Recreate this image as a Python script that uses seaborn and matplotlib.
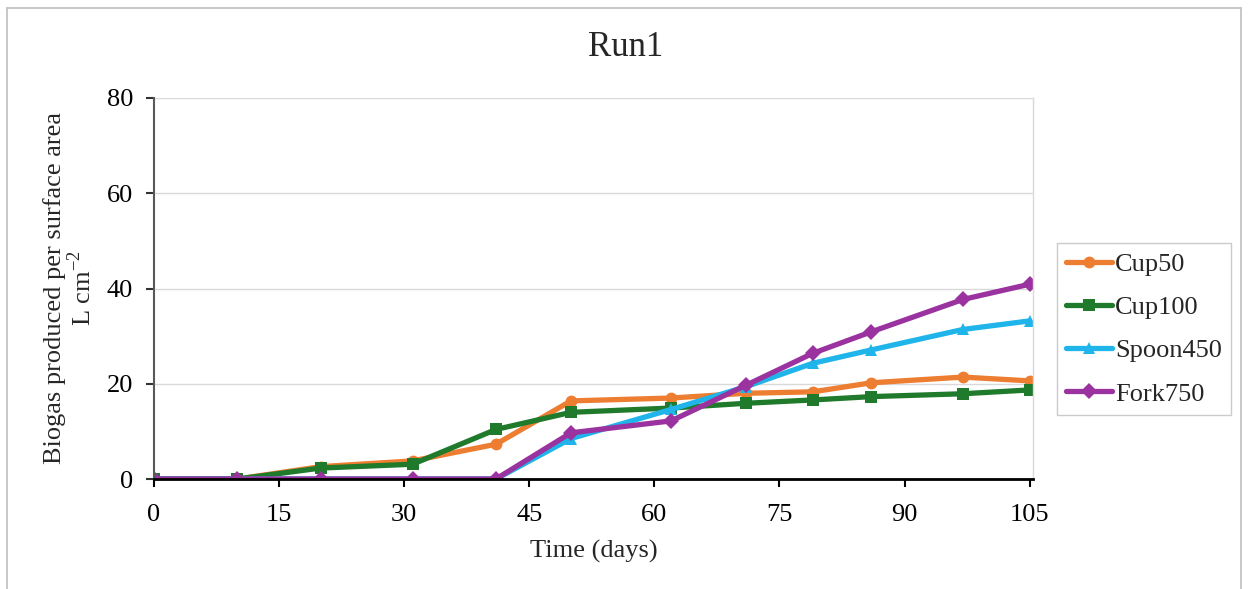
import matplotlib
matplotlib.use("Agg")
import matplotlib.pyplot as plt
import seaborn as sns
import pandas as pd
from matplotlib.lines import Line2D

days = [0, 10, 20, 31, 41, 50, 62, 71, 79, 86, 97, 105]
cup50 = [0, 0, 2.6, 3.8, 7.3, 16.4, 17.0, 18.0, 18.3, 20.2, 21.4, 20.6]
cup100 = [0, 0, 2.3, 3.1, 10.4, 14.0, 14.9, 15.9, 16.6, 17.3, 17.9, 18.7]
spoon450 = [0, 0, 0, 0, 0, 8.5, 14.6, 19.4, 24.3, 27.1, 31.4, 33.2]
fork750 = [0, 0, 0, 0, 0, 9.7, 12.2, 19.7, 26.4, 30.9, 37.7, 40.9]
series_names = ["Cup50", "Cup100", "Spoon450", "Fork750"]
x_ticks = [0, 15, 30, 45, 60, 75, 90, 105]
y_ticks = [0, 20, 40, 60, 80]

colors = {"Cup50": "#ED7D31", "Cup100": "#1F7A2B", "Spoon450": "#1FB4EA", "Fork750": "#9A32A0"}
markers = {"Cup50": "o", "Cup100": "s", "Spoon450": "^", "Fork750": "D"}

rows = []
for name, vals in zip(series_names, [cup50, cup100, spoon450, fork750]):
    for d, v in zip(days, vals):
        rows.append({"day": d, "value": v, "series": name})
df = pd.DataFrame(rows)

sns.set_theme(style="white")
plt.rcParams["font.family"] = ["Liberation Serif", "DejaVu Serif"]
plt.rcParams["mathtext.fontset"] = "custom"
plt.rcParams["mathtext.rm"] = "Liberation Serif"

fig = plt.figure(figsize=(12.49, 5.89), dpi=100)
ax = fig.add_axes([154/1249, 1-479/589, (1033-154)/1249, (479-98)/589])

LW = 3.8
MS = 8.5
sns.lineplot(data=df, x="day", y="value", hue="series", style="series",
             hue_order=series_names, style_order=series_names,
             palette=colors, markers=markers, dashes=False, linewidth=LW,
             markersize=MS, markeredgewidth=0, ax=ax, legend=False, sort=False)

ax.set_xlim(0, 105.4)
ax.set_ylim(0, 80)
ax.set_xticks(x_ticks)
ax.set_yticks(y_ticks)
ax.tick_params(axis="both", bottom=True, left=True, labelsize=19, labelcolor="black",
               direction="out", length=6, width=1.5)
ax.tick_params(axis="x", pad=12, color="black")
ax.tick_params(axis="y", pad=9, color="#333333")
ax.yaxis.grid(True, color="#d9d9d9", linewidth=1)
ax.set_axisbelow(True)
ax.spines["top"].set_visible(False)
ax.spines["right"].set_color("#d9d9d9")
ax.spines["right"].set_linewidth(1)
ax.spines["left"].set_color("#595959")
ax.spines["left"].set_linewidth(1.5)
ax.spines["bottom"].set_color("black")
ax.spines["bottom"].set_linewidth(2)

ax.set_xlabel("Time (days)", fontsize=19, labelpad=10)
ax.set_ylabel("Biogas produced per surface area\nL cm$^{-2}$", fontsize=19, labelpad=8, linespacing=1.05)
fig.text(626/1249, 1 - 47/589, "Run1", fontsize=25, ha="center", va="center")

handles = [Line2D([0], [0], color=colors[n], marker=markers[n], linewidth=LW, markersize=MS,
                  markeredgewidth=0) for n in series_names]
leg = fig.legend(handles, series_names, loc="center left", bbox_to_anchor=(1057/1249, 1 - 329/589),
                 fontsize=19, frameon=True, fancybox=False, edgecolor="#bfbfbf", handlelength=1.75,
                 handletextpad=0.1, labelspacing=0.75, borderpad=0.35, borderaxespad=0)
leg.get_frame().set_linewidth(1)

# outer chart border
fig.add_artist(Line2D([7/1249, 7/1249], [0, 1 - 8/589], transform=fig.transFigure, color="#bfbfbf", lw=1.2))
fig.add_artist(Line2D([7/1249, 1241/1249], [1 - 8/589, 1 - 8/589], transform=fig.transFigure, color="#bfbfbf", lw=1.2))
fig.add_artist(Line2D([1241/1249, 1241/1249], [0, 1 - 8/589], transform=fig.transFigure, color="#bfbfbf", lw=1.2))

fig.savefig("out.png", dpi=100, facecolor="white")
